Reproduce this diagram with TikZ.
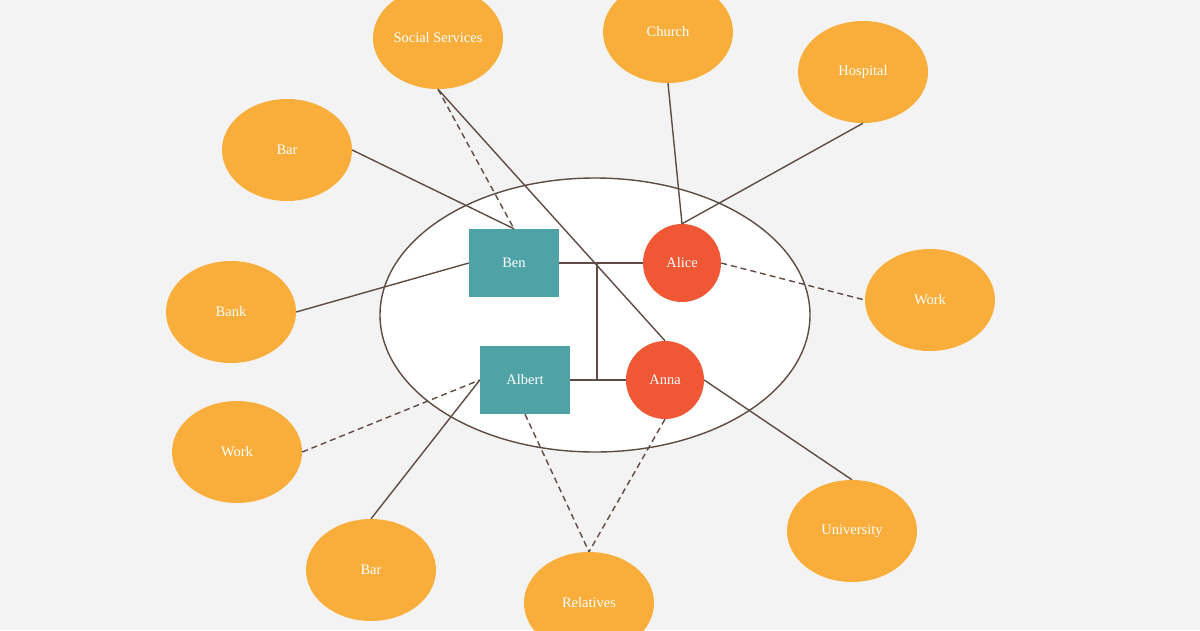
\documentclass[tikz,border=0pt]{standalone}
\usepackage{fontspec}
\setmainfont{Liberation Serif}
\usetikzlibrary{shapes.geometric}
\definecolor{bgc}{HTML}{F3F3F3}
\definecolor{orng}{HTML}{F9AE3B}
\definecolor{tealc}{HTML}{4FA3A6}
\definecolor{redc}{HTML}{F05735}
\definecolor{linec}{HTML}{5E4B43}
\tikzset{
  place/.style={ellipse, fill=orng, minimum width=130pt, minimum height=102pt, inner sep=0pt, text=white, font=\fontsize{14.5}{16}\selectfont},
  man/.style={rectangle, fill=tealc, minimum width=90pt, minimum height=68pt, inner sep=0pt, text=white, font=\fontsize{14.5}{16}\selectfont},
  woman/.style={circle, fill=redc, minimum size=78pt, inner sep=0pt, text=white, font=\fontsize{14.5}{16}\selectfont},
  link/.style={draw=linec, line width=1.4pt},
  dlink/.style={draw=linec, line width=1.4pt, dash pattern=on 6pt off 4pt},
}
\begin{document}
\begin{tikzpicture}[x=1pt,y=-1pt]
\useasboundingbox[fill=bgc] (0,0) rectangle (1200,630);
\node[ellipse, draw=linec, fill=white, line width=1.4pt, minimum width=430pt, minimum height=274pt, inner sep=0pt] (family) at (595,315) {};
% places
\node[place] (ss) at (438,38) {Social Services};
\node[place] (church) at (668,32) {Church};
\node[place] (hosp) at (863,72) {Hospital};
\node[place] (bar1) at (287,150) {Bar};
\node[place] (bank) at (231,312) {Bank};
\node[place] (work1) at (237,452) {Work};
\node[place] (bar2) at (371,570) {Bar};
\node[place] (rel) at (589,603) {Relatives};
\node[place] (uni) at (852,531) {University};
\node[place] (work2) at (930,300) {Work};
% people
\node[man] (ben) at (514,263) {Ben};
\node[man] (albert) at (525,380) {Albert};
\node[woman] (alice) at (682,263) {Alice};
\node[woman] (anna) at (665,380) {Anna};
\coordinate (j1) at (597,263);
\coordinate (j2) at (597,380);
% family links
\draw[link] (ben.east) -- (alice.west);
\draw[link] (albert.east) -- (anna.west);
\draw[link] (j1) -- (j2);
% outer links
\draw[link] (bar1.east) -- (ben.north);
\draw[dlink] (ss.south) -- (ben.north);
\draw[link] (ss.south) -- (anna.north);
\draw[link] (church.south) -- (alice.north);
\draw[link] (hosp.south) -- (alice.north);
\draw[link] (bank.east) -- (ben.west);
\draw[dlink] (alice.east) -- (work2.west);
\draw[dlink] (work1.east) -- (albert.west);
\draw[link] (bar2.north) -- (albert.west);
\draw[dlink] (albert.south) -- (rel.north);
\draw[dlink] (anna.south) -- (rel.north);
\draw[link] (anna.east) -- (uni.north);
\end{tikzpicture}
\end{document}
